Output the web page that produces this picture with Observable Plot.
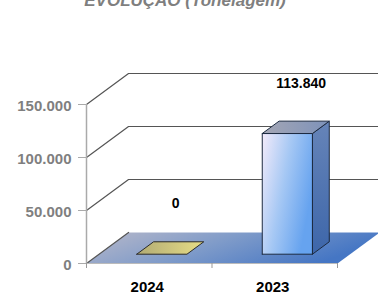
<!DOCTYPE html>
<html>
<head>
<meta charset="utf-8">
<script src="https://cdn.jsdelivr.net/npm/d3@7"></script>
<script src="https://cdn.jsdelivr.net/npm/@observablehq/plot@0.6"></script>
<style>
  html, body { margin: 0; padding: 0; background: white; }
  #wrap { position: relative; width: 378px; height: 296px; overflow: hidden; }
  #title { position: absolute; top: -8px; left: 0; width: 370px; text-align: center;
    font-family: 'Liberation Sans', Arial, sans-serif; font-size: 17px; font-weight: bold;
    font-style: italic; color: #7f7f7f; line-height: 17px; z-index: 2; }
</style>
</head>
<body>
<div id="wrap"><div id="title"></div></div>
<script>
const title = "EVOLUÇÃO (Tonelagem)";
const categories = ["2024", "2023"];
const values = [0, 113840];
const yTicks = [0, 50000, 100000, 150000];

// 3D layout (depth expressed in data units)
const DEPTH_X = 0.335;   // category units
const DEPTH_Y = 29250;   // value units
const BAR_LO = 0.3, BAR_HI = 0.7, D0 = 0.3, D1 = 0.7;

const fmt = d3.formatLocale({decimal: ",", thousands: ".", grouping: [3], currency: ["", ""]}).format(",.0f");
const P = (xu, yv, d) => ({x: xu + d * DEPTH_X, y: yv + d * DEPTH_Y});
const closed = pts => [...pts, pts[0]];

document.getElementById("title").textContent = title;

const defs = () => {
  const g = document.createElementNS("http://www.w3.org/2000/svg", "defs");
  g.innerHTML = `
    <linearGradient id="gFloor" x1="0" y1="0" x2="1" y2="0.3">
      <stop offset="0" stop-color="#b9b9c9"/><stop offset="0.5" stop-color="#7f9bc9"/><stop offset="1" stop-color="#4576c4"/>
    </linearGradient>
    <linearGradient id="gFront" x1="0" y1="0" x2="1" y2="0.45">
      <stop offset="0" stop-color="#f3ebfa"/><stop offset="0.5" stop-color="#a6c8f4"/><stop offset="1" stop-color="#66a3ef"/>
    </linearGradient>
    <linearGradient id="gSide" x1="0" y1="0" x2="0" y2="1">
      <stop offset="0" stop-color="#6684b8"/><stop offset="1" stop-color="#3d66aa"/>
    </linearGradient>
    <linearGradient id="gTop" x1="0" y1="0" x2="1" y2="0">
      <stop offset="0" stop-color="#a4a6b4"/><stop offset="1" stop-color="#7d92ba"/>
    </linearGradient>
    <linearGradient id="gFlat" x1="0" y1="0" x2="1" y2="0">
      <stop offset="0" stop-color="#b2ab74"/><stop offset="1" stop-color="#e6dd86"/>
    </linearGradient>`;
  return g;
};

const floor = closed([P(0, 0, 0), P(2, 0, 0), P(2, 0, 1), P(0, 0, 1)]);

const faceMarks = [];
values.forEach((v, i) => {
  const a = i + BAR_LO, b = i + BAR_HI;
  const top = closed([P(a, v, D0), P(b, v, D0), P(b, v, D1), P(a, v, D1)]);
  if (v > 0) {
    const front = closed([P(a, 0, D0), P(b, 0, D0), P(b, v, D0), P(a, v, D0)]);
    const side = closed([P(b, 0, D0), P(b, 0, D1), P(b, v, D1), P(b, v, D0)]);
    faceMarks.push(Plot.line(front, {x: "x", y: "y", fill: "url(#gFront)", stroke: "#1c2a40", strokeWidth: 1}));
    faceMarks.push(Plot.line(side, {x: "x", y: "y", fill: "url(#gSide)", stroke: "#1c2a40", strokeWidth: 1}));
    faceMarks.push(Plot.line(top, {x: "x", y: "y", fill: "url(#gTop)", stroke: "#1c2a40", strokeWidth: 1}));
  } else {
    faceMarks.push(Plot.line(top, {x: "x", y: "y", fill: "url(#gFlat)", stroke: "#2a2a2a", strokeWidth: 1}));
  }
});

const gridMarks = yTicks.map(v =>
  Plot.line(v === 0 ? [P(0, 0, 0), P(0, 0, 1)] : [P(0, v, 0), P(0, v, 1), P(2, v, 1)],
    {x: "x", y: "y", stroke: "#555", strokeWidth: 1.2}));

const chart = Plot.plot({
  width: 378,
  height: 296,
  marginLeft: 86,
  marginRight: 41,
  marginTop: 104,
  marginBottom: 33,
  style: {fontFamily: "'Liberation Sans', Arial, sans-serif", background: "white"},
  x: {type: "linear", domain: [0, 2]},
  y: {type: "linear", domain: [0, 150000]},
  marks: [
    defs,
    Plot.line(floor, {x: "x", y: "y", fill: "url(#gFloor)", stroke: "none"}),
    ...gridMarks,
    Plot.ruleX([0], {y1: 0, y2: 150000, stroke: "#aaa", strokeWidth: 1.5}),
    Plot.ruleY([0], {x1: 0, x2: 2, stroke: "#bbb", strokeWidth: 1.2}),
    ...faceMarks,
    Plot.axisY({ticks: yTicks, tickFormat: () => "", tickSize: 8, stroke: "#aaa", label: null}),
    Plot.axisY({ticks: yTicks, tickFormat: fmt, tickSize: 0, tickPadding: 15, dy: 2, fontSize: 15,
      fontWeight: "bold", fill: "#7f7f7f", label: null}),
    Plot.axisX({ticks: [0, 1, 2], tickFormat: () => "", tickSize: 5, stroke: "#999", label: null}),
    Plot.text(categories.map((c, i) => ({x: i + 0.5, label: c})),
      {x: "x", y: () => 0, text: "label", dy: 24, dx: -2, fontSize: 15, fontWeight: "bold", fill: "#000"}),
    Plot.text(values.map((v, i) => ({...P(i + 0.5, v, D1), label: fmt(v)})),
      {x: "x", y: "y", text: "label", dx: -3, dy: -38, fontSize: 14, fontWeight: "bold", fill: "#000"})
  ]
});
document.getElementById("wrap").appendChild(chart);
</script>
</body>
</html>
